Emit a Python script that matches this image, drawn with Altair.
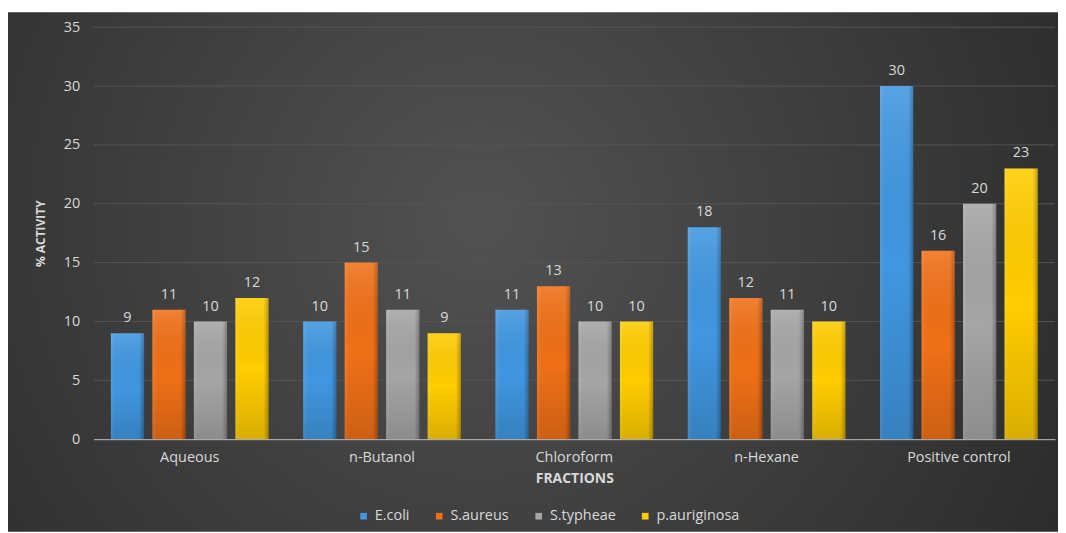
import altair as alt
import pandas as pd

fractions = ["Aqueous", "n-Butanol", "Chloroform", "n-Hexane", "Positive control"]
series = ["E.coli", "S.aureus", "S.typheae", "p.auriginosa"]
ecoli = [9, 10, 11, 18, 30]
saureus = [11, 15, 13, 12, 16]
styphae = [10, 11, 10, 11, 20]
pauriginosa = [12, 9, 10, 10, 23]
y_ticks = [0, 5, 10, 15, 20, 25, 30, 35]
colors = ["#4097E0", "#F07017", "#A5A5A5", "#FFCC00"]

rows = []
for name, vals in zip(series, [ecoli, saureus, styphae, pauriginosa]):
    for f, v in zip(fractions, vals):
        rows.append({"Fraction": f, "Series": name, "Value": v})
df = pd.DataFrame(rows)

FONT = "Open Sans"
TXT = "#D9D9D9"
FS = 14.5
W, H = 966, 414
PL, PT, PR, PB = 86, 18, 3, 93

# decorative radial background spanning the chart box
bg = alt.Chart(pd.DataFrame({"bg": [0]})).mark_rect(
    fill=alt.Gradient(gradient="radial", x1=0.45, y1=0.45, r1=0, x2=0.45, y2=0.45, r2=0.72,
                      stops=[alt.GradientStop(color="#525252", offset=0),
                             alt.GradientStop(color="#262626", offset=1)])
).encode(x=alt.value(-PL - 1), x2=alt.value(W + PR), y=alt.value(-PT + 3), y2=alt.value(H + PB))

grid = alt.Chart(pd.DataFrame({"t": y_ticks[1:]})).mark_rule(
    color="#555555", strokeWidth=1
).encode(y=alt.Y("t:Q", scale=alt.Scale(domain=[0, 35])), x=alt.value(0), x2=alt.value(W))

x_enc = alt.X("Fraction:N", sort=fractions,
              scale=alt.Scale(paddingInner=0.18, paddingOuter=0.09),
              axis=alt.Axis(title="FRACTIONS", labelAngle=0, labelPadding=11,
                            titlePadding=8, zindex=1))
xo_enc = alt.XOffset("Series:N", sort=series, scale=alt.Scale(paddingInner=0.2))
y_enc = alt.Y("Value:Q", scale=alt.Scale(domain=[0, 35]),
              axis=alt.Axis(title="% ACTIVITY", values=y_ticks, grid=False,
                            labelPadding=14, titlePadding=16, zindex=1))

base = alt.Chart(df).encode(x=x_enc, xOffset=xo_enc, y=y_enc)

bars = base.mark_bar().encode(
    color=alt.Color("Series:N", sort=series,
                    scale=alt.Scale(domain=series, range=colors),
                    legend=alt.Legend(title=None, orient="none", direction="horizontal",
                                      legendX=264, legendY=484, symbolType="square",
                                      symbolSize=45, columnPadding=22, labelOffset=4,
                                      labelFontSize=FS, labelColor=TXT, labelFont=FONT,
                                      symbolStrokeWidth=0))
)

bevel_h = base.mark_bar(fill=alt.Gradient(
    gradient="linear", x1=0, y1=0, x2=1, y2=0,
    stops=[alt.GradientStop(color="rgba(255,255,255,0.10)", offset=0),
           alt.GradientStop(color="rgba(255,255,255,0.0)", offset=0.12),
           alt.GradientStop(color="rgba(0,0,0,0.0)", offset=0.85),
           alt.GradientStop(color="rgba(0,0,0,0.28)", offset=1)]))

bevel_v = base.mark_bar(fill=alt.Gradient(
    gradient="linear", x1=0, y1=0, x2=0, y2=1,
    stops=[alt.GradientStop(color="rgba(255,255,255,0.12)", offset=0),
           alt.GradientStop(color="rgba(0,0,0,0.0)", offset=0.5),
           alt.GradientStop(color="rgba(0,0,0,0.15)", offset=1)]))

labels = base.mark_text(baseline="middle", dy=-15, fontSize=FS, font=FONT,
                        color=TXT).encode(text="Value:Q")

chart = alt.layer(bg, grid, bars, bevel_h, bevel_v, labels).properties(
    width=W, height=H,
    autosize=alt.AutoSizeParams(type="none"),
    padding={"left": PL, "top": PT, "right": PR, "bottom": PB},
    background="white",
).configure_view(
    strokeWidth=0,
).configure_axis(
    labelFont=FONT, labelFontSize=FS, labelColor=TXT,
    titleFont=FONT, titleColor=TXT, titleFontSize=14, titleFontWeight="bold",
    ticks=False,
).configure_axisX(
    domainColor="#BFBFBF", domainWidth=1, grid=False,
).configure_axisY(
    domain=False, titleFontSize=12,
)

chart.save("out.html", embed_options={"renderer": "svg", "actions": False})
